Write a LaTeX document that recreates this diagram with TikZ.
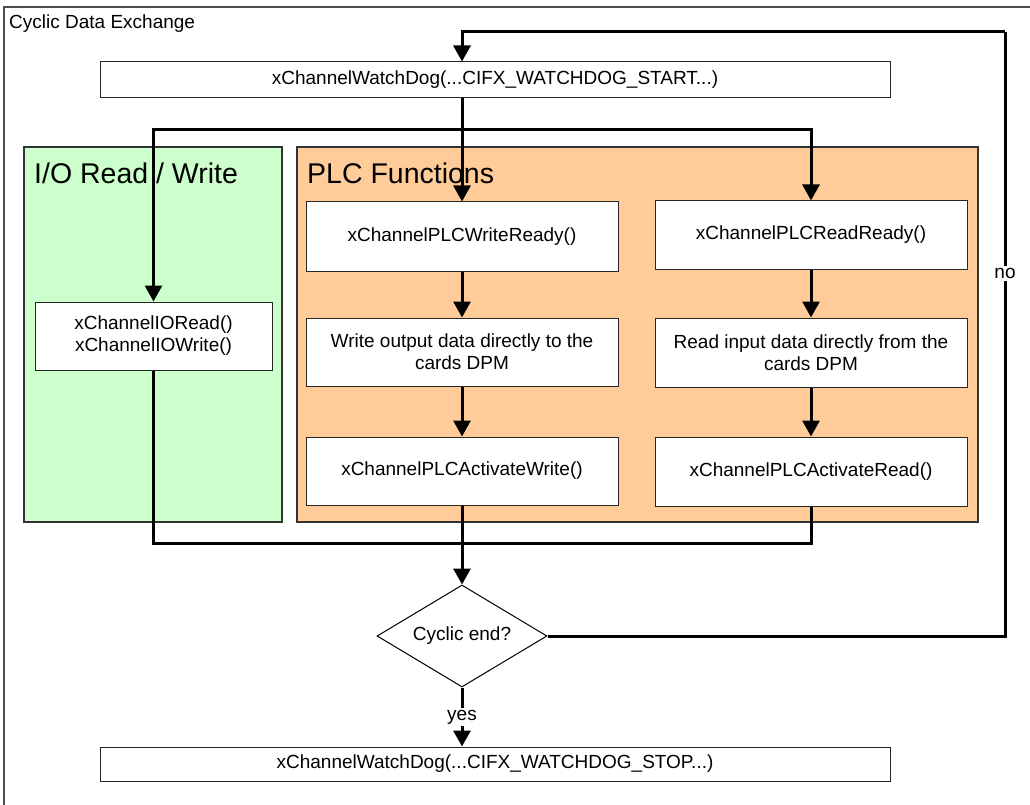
\documentclass[tikz,border=0pt]{standalone}
\usepackage{fontspec}
\setmainfont{Liberation Sans}
\usetikzlibrary{shapes.geometric,arrows.meta}
\definecolor{iogreen}{HTML}{CCFFCC}
\definecolor{plcorange}{HTML}{FFCC99}
\tikzset{
  fbox/.style={draw=black!85,line width=1pt,fill=white,inner sep=2pt,align=center,
    font=\fontsize{19}{22}\selectfont},
  fdec/.style={draw=black,line width=1pt,fill=white,shape=diamond,aspect=1.67,inner sep=0pt,
    minimum width=170pt,minimum height=102pt,font=\fontsize{19}{22}\selectfont},
  group/.style={draw=black!80,line width=1.5pt},
  flow/.style={line width=3pt},
  flowarrow/.style={flow,-{Triangle[width=17pt,length=16pt]}},
  lbl/.style={fill=white,inner sep=2pt,font=\fontsize{19}{22}\selectfont},
  head/.style={anchor=base west,inner sep=0pt,font=\fontsize{28.5}{32}\selectfont}
}
\begin{document}
\begin{tikzpicture}[x=1pt,y=-1pt]
\useasboundingbox (0,0) rectangle (1030,805);
% frame
\draw [line width=1.2pt,black!70] (1030,7) -- (4,7) -- (4,805);
\node [anchor=base west,inner sep=0pt,font=\fontsize{19}{22}\selectfont] (title) at (9,29) {Cyclic Data Exchange};
% groups
\draw [group,fill=iogreen] (24,147) rectangle (282,522);
\draw [group,fill=plcorange] (297,147) rectangle (978,522);
\node [head] (iohead) at (34,183) {I/O Read / Write};
\node [head] (plchead) at (307,183) {PLC Functions};
% boxes
\node [fbox,minimum width=790pt,minimum height=36pt] (start) at (495,80) {xChannelWatchDog(...CIFX\_WATCHDOG\_START...)};
\node [fbox,minimum width=237pt,minimum height=68pt] (io) at (153.5,336) {xChannelIORead()\\xChannelIOWrite()};
\node [fbox,minimum width=312pt,minimum height=69pt] (wrdy) at (462,236.5) {xChannelPLCWriteReady()};
\node [fbox,minimum width=312pt,minimum height=68pt] (wout) at (462,352) {Write output data directly to the\\cards DPM};
\node [fbox,minimum width=312pt,minimum height=68pt] (wact) at (462,471) {xChannelPLCActivateWrite()};
\node [fbox,minimum width=312pt,minimum height=68pt] (rrdy) at (811,235) {xChannelPLCReadReady()};
\node [fbox,minimum width=312pt,minimum height=69pt] (rin) at (811,352.5) {Read input data directly from the\\cards DPM};
\node [fbox,minimum width=312pt,minimum height=69pt] (ract) at (811,471.5) {xChannelPLCActivateRead()};
\node [fdec] (dec) at (462,636) {Cyclic end?};
\node [fbox,minimum width=790pt,minimum height=34pt] (stop) at (495,764) {xChannelWatchDog(...CIFX\_WATCHDOG\_STOP...)};
% connectors
\coordinate (fork) at (462,130);
\coordinate (join) at (462,543);
\coordinate (back) at (1005,32);
\draw [flowarrow] (wrdy.north |- start.south) -- (wrdy.north);
\draw [flowarrow] (fork) -| (io.north);
\draw [flowarrow] (fork) -| (rrdy.north);
\draw [flowarrow] (wrdy) -- (wout);
\draw [flowarrow] (wout) -- (wact);
\draw [flowarrow] (rrdy) -- (rin);
\draw [flowarrow] (rin) -- (ract);
\draw [flow] (io.south) |- (join);
\draw [flow] (ract.south) |- (join);
\draw [flowarrow] (wact.south) -- (dec.north);
\draw [flowarrow] (dec.south) -- node [lbl] {yes} (dec.south |- stop.north);
\draw [flow] (dec.east) -| node [lbl,pos=0.8] {no} (back);
\draw [flowarrow] (back) -| (start.north -| wrdy.north);
\end{tikzpicture}
\end{document}
